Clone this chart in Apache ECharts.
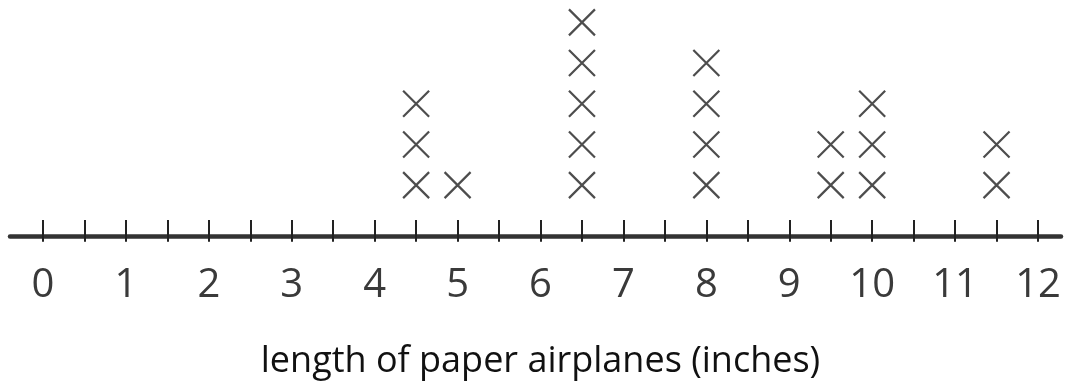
<!DOCTYPE html>
<html>
<head>
<meta charset="utf-8">
<script src="https://cdn.jsdelivr.net/npm/echarts@6/dist/echarts.min.js"></script>
<style>
html,body{margin:0;padding:0;background:#fff;}
#chart{width:1065px;height:388px;}
</style>
</head>
<body>
<div id="chart"></div>
<script>
// data
const lengths = [4.5, 5, 6.5, 8, 9.5, 10, 11.5];
const counts  = [3, 1, 5, 4, 2, 3, 2];
const tickLabels = ['0','1','2','3','4','5','6','7','8','9','10','11','12'];
const axisTitle = 'length of paper airplanes (inches)';

const points = [];
lengths.forEach((v, i) => {
  for (let k = 1; k <= counts[i]; k++) points.push([v, k]);
});

const FONT = '"Open Sans", "DejaVu Sans", sans-serif';
const chart = echarts.init(document.getElementById('chart'));
chart.setOption({
  animation: false,
  backgroundColor: '#fff',
  grid: [
    { left: 43, right: 27, top: 2, bottom: 152 },
    { left: 10, right: 4, top: 2, bottom: 152 }
  ],
  xAxis: [
    { // main axis: ticks below + labels + name
      type: 'value', gridIndex: 0, min: 0, max: 12, interval: 0.5,
      axisLine: { show: false },
      axisTick: { show: true, length: 16, lineStyle: { color: '#222', width: 2 } },
      axisLabel: {
        margin: 30, color: '#3a3a3a', fontSize: 40, fontFamily: FONT,
        formatter: v => Number.isInteger(v) ? tickLabels[v] : ''
      },
      splitLine: { show: false },
      name: axisTitle, nameLocation: 'middle', nameGap: 108,
      nameTextStyle: { fontSize: 36, color: '#111', fontFamily: FONT }
    },
    { // ticks above axis
      type: 'value', gridIndex: 0, min: 0, max: 12, interval: 0.5,
      position: 'bottom',
      axisLine: { show: false },
      axisTick: { show: true, inside: true, length: 16, lineStyle: { color: '#222', width: 2 } },
      axisLabel: { show: false },
      splitLine: { show: false }
    },
    { // extended axis line
      type: 'value', gridIndex: 1, min: -0.4, max: 12.27,
      axisLine: { show: true, lineStyle: { color: '#333', width: 4.5 } },
      axisTick: { show: false },
      axisLabel: { show: false },
      splitLine: { show: false }
    }
  ],
  yAxis: [
    { type: 'value', gridIndex: 0, min: -0.25, max: 5.5, show: false },
    { type: 'value', gridIndex: 1, min: 0, max: 1, show: false }
  ],
  series: [{
    type: 'scatter',
    xAxisIndex: 0, yAxisIndex: 0,
    data: points,
    symbol: 'path://M0,0L10,10M10,0L0,10',
    symbolSize: 26,
    itemStyle: { color: 'none', borderColor: '#4d4d4d', borderWidth: 2.2, opacity: 1 },
    emphasis: { disabled: true }
  }]
});
</script>
</body>
</html>
